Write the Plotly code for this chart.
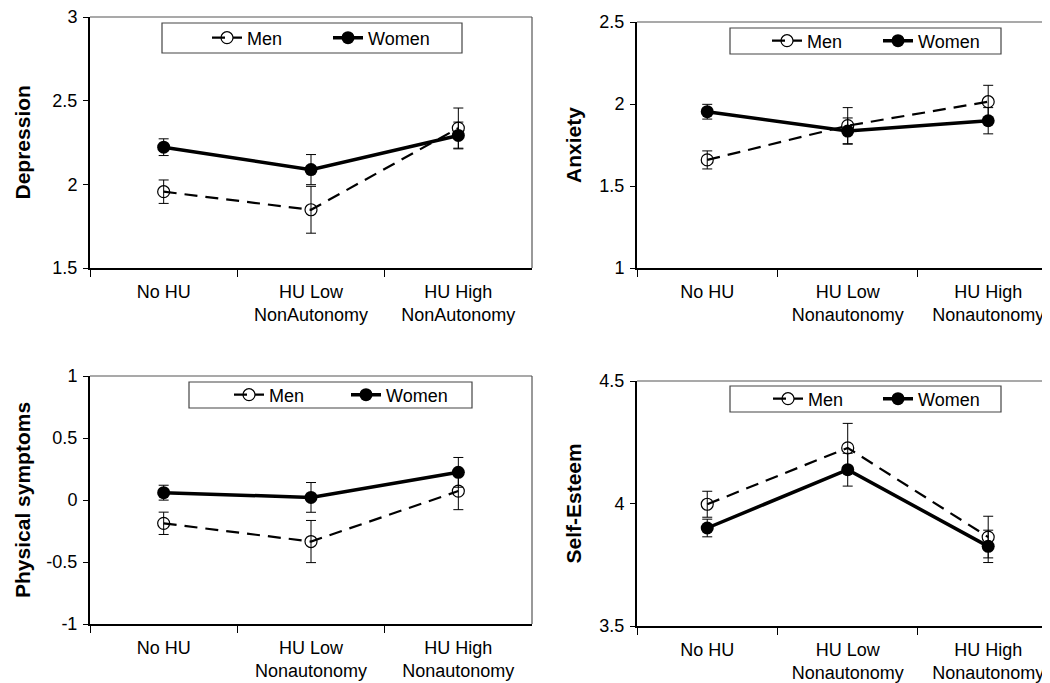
import plotly.graph_objects as go

# ---------------- data ----------------
cats_dep = ["No HU", "HU Low<br>NonAutonomy", "HU High<br>NonAutonomy"]
cats_other = ["No HU", "HU Low<br>Nonautonomy", "HU High<br>Nonautonomy"]

dep_men = [1.956, 1.848, 2.336]
dep_men_err = [0.07, 0.14, 0.12]
dep_women = [2.222, 2.088, 2.292]
dep_women_err = [0.05, 0.09, 0.08]

anx_men = [1.659, 1.868, 2.014]
anx_men_err = [0.055, 0.11, 0.10]
anx_women = [1.953, 1.835, 1.898]
anx_women_err = [0.045, 0.08, 0.08]

phys_men = [-0.188, -0.335, 0.072]
phys_men_err = [0.09, 0.17, 0.15]
phys_women = [0.059, 0.021, 0.223]
phys_women_err = [0.06, 0.12, 0.12]

se_men = [3.997, 4.227, 3.863]
se_men_err = [0.053, 0.10, 0.085]
se_women = [3.900, 4.138, 3.825]
se_women_err = [0.036, 0.067, 0.066]

titles = ["Depression", "Anxiety", "Physical symptoms", "Self-Esteem"]
dep_ticks = [1.5, 2, 2.5, 3]
anx_ticks = [1, 1.5, 2, 2.5]
phys_ticks = [-1, -0.5, 0, 0.5, 1]
phys_ticktext = ["-1", "-0.5", "0", "0.5", "1"]
se_ticks = [3.5, 4, 4.5]

# ---------------- layout geometry ----------------
VW, VH = 1050, 683      # browser window
OFF = 8                 # default page body margin
W, H = VW - OFF, VH - OFF
FONT = "Liberation Sans, Arial, sans-serif"


def px(x):
    return (x - OFF) / W


def py(y):
    return 1 - (y - OFF) / H


panels = [
    dict(cats=cats_dep, men=dep_men, me=dep_men_err, women=dep_women, we=dep_women_err,
         xd=(90, 532), yd=(17, 268), yr=(1.5, 3), tv=dep_ticks, tt=None, xr=(-0.5, 2.5),
         leg=(162, 23, 462, 53), lx=207, ew=76, right=True),
    dict(cats=cats_other, men=anx_men, me=anx_men_err, women=anx_women, we=anx_women_err,
         xd=(637, 1050), yd=(22, 268), yr=(1, 2.5), tv=anx_ticks, tt=None, xr=(-0.5, 2.44),
         leg=(730, 28, 1001, 54), lx=767, ew=66, right=False),
    dict(cats=cats_other, men=phys_men, me=phys_men_err, women=phys_women, we=phys_women_err,
         xd=(90, 532), yd=(376, 624), yr=(-1, 1), tv=phys_ticks, tt=phys_ticktext, xr=(-0.5, 2.5),
         leg=(189, 382, 472, 408), lx=229, ew=72, right=True),
    dict(cats=cats_other, men=se_men, me=se_men_err, women=se_women, we=se_women_err,
         xd=(637, 1050), yd=(381, 626), yr=(3.5, 4.5), tv=se_ticks, tt=None, xr=(-0.5, 2.44),
         leg=(730, 386, 1001, 412), lx=768, ew=65, right=False),
]

fig = go.Figure()
shapes = []
annotations = []
layout = dict(
    width=W, height=H,
    margin=dict(l=0, r=0, t=0, b=0, autoexpand=False),
    paper_bgcolor="white", plot_bgcolor="white",
    font=dict(family=FONT, size=18, color="black"),
    showlegend=True,
)

for i, p in enumerate(panels):
    n = i + 1
    xa = "x" if n == 1 else f"x{n}"
    ya = "y" if n == 1 else f"y{n}"
    lg = "legend" if n == 1 else f"legend{n}"

    fig.add_trace(go.Scatter(
        x=p["cats"], y=p["men"], name="Men", xaxis=xa, yaxis=ya, legend=lg,
        mode="lines+markers",
        line=dict(color="black", width=2.2, dash="13px,8px"),
        marker=dict(symbol="circle-open", size=12, color="black", line=dict(width=1.2)),
        error_y=dict(type="data", array=p["me"], color="black", thickness=1, width=5),
    ))
    fig.add_trace(go.Scatter(
        x=p["cats"], y=p["women"], name="Women", xaxis=xa, yaxis=ya, legend=lg,
        mode="lines+markers",
        line=dict(color="black", width=3.5),
        marker=dict(symbol="circle", size=13, color="black"),
        error_y=dict(type="data", array=p["we"], color="black", thickness=1, width=5),
    ))

    xkey = "xaxis" if n == 1 else f"xaxis{n}"
    ykey = "yaxis" if n == 1 else f"yaxis{n}"
    layout[xkey] = dict(
        domain=[px(p["xd"][0]), px(p["xd"][1])], anchor=ya,
        type="category", categoryorder="array", categoryarray=p["cats"],
        range=list(p["xr"]), tickson="boundaries",
        ticks="outside", ticklen=7, tickwidth=1, tickcolor="black",
        ticklabelstandoff=6, ticklabeloverflow="allow",
        showline=True, linecolor="black", linewidth=2,
        showgrid=False, zeroline=False, automargin=False,
        tickfont=dict(family=FONT, size=18, color="black"),
        fixedrange=True,
    )
    ydict = dict(
        domain=[py(p["yd"][1]), py(p["yd"][0])], anchor=xa,
        range=list(p["yr"]), tickvals=p["tv"],
        ticks="outside", ticklen=5, tickwidth=1, tickcolor="black",
        ticklabelstandoff=2, ticklabeloverflow="allow",
        showline=True, linecolor="black", linewidth=2,
        showgrid=False, zeroline=False, automargin=False,
        tickfont=dict(family=FONT, size=18, color="black"),
        fixedrange=True,
    )
    if p["tt"] is not None:
        ydict["ticktext"] = p["tt"]
    layout[ykey] = ydict

    # frame: top (and right) borders in grey
    xref_d = f"{xa} domain"
    yref_d = f"{ya} domain"
    shapes.append(dict(type="line", xref=xref_d, yref=yref_d, x0=0, x1=1, y0=1, y1=1,
                       line=dict(color="#555555", width=1.2)))
    if p["right"]:
        shapes.append(dict(type="line", xref=xref_d, yref=yref_d, x0=1, x1=1, y0=0, y1=1,
                           line=dict(color="#555555", width=1.2)))

    # legend box
    lx0, ly0, lx1, ly1 = p["leg"]
    shapes.append(dict(type="rect", xref="paper", yref="paper",
                       x0=px(lx0), x1=px(lx1), y0=py(ly1), y1=py(ly0),
                       line=dict(color="#444444", width=1.2), fillcolor="rgba(0,0,0,0)"))
    layout[lg] = dict(
        orientation="h", x=px(p["lx"]), y=py((ly0 + ly1) / 2), xanchor="left", yanchor="middle",
        bgcolor="rgba(0,0,0,0)", borderwidth=0,
        font=dict(family=FONT, size=18, color="black"),
        itemwidth=30, entrywidth=p["ew"], tracegroupgap=0, itemclick=False, itemdoubleclick=False,
    )

    # y axis title
    annotations.append(dict(
        text=f"<b>{titles[i]}</b>", xref="paper", yref=yref_d,
        x=px(22 if n in (1, 3) else 573), y=0.5, xanchor="center", yanchor="middle",
        textangle=-90, showarrow=False,
        font=dict(family=FONT, size=21, color="black"),
    ))

layout["shapes"] = shapes
layout["annotations"] = annotations
fig.update_layout(**layout)

fig.write_html("out.html", config={"displayModeBar": False})
